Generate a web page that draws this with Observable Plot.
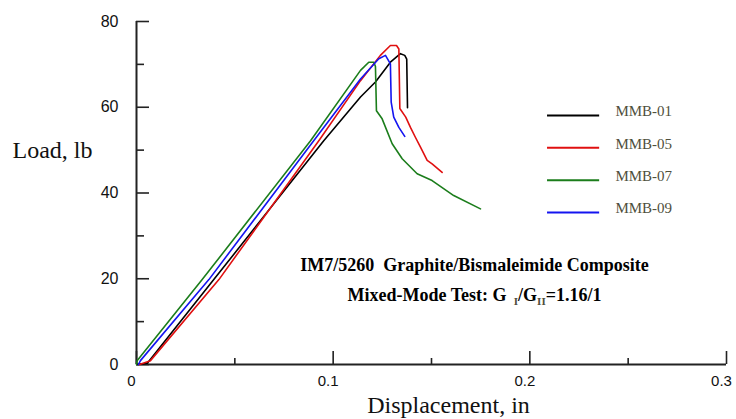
<!DOCTYPE html>
<html>
<head>
<meta charset="utf-8">
<script src="https://cdn.jsdelivr.net/npm/d3@7"></script>
<script src="https://cdn.jsdelivr.net/npm/@observablehq/plot@0.6"></script>
<style>
  html, body { margin: 0; padding: 0; background: #fff; }
  #chart { width: 736px; height: 419px; }
</style>
</head>
<body>
<div id="chart"></div>
<script>
// ---- data (displacement in inches, load in lb) ----
const seriesNames = ["MMB-01", "MMB-05", "MMB-07", "MMB-09"];
const seriesColors = ["#000000", "#e01010", "#1b7d1b", "#1414f0"];

const mmb01 = [[0.0005,0],[0.0055,0.3],[0.0393,19.8],[0.0952,52.2],[0.1139,62.4],[0.1215,65.9],[0.1291,70.5],[0.1342,72.5],[0.1364,72.1],[0.1374,71.2],[0.1378,59.9]];
const mmb05 = [[0.0015,0],[0.0071,0.9],[0.0419,19.8],[0.0927,52.2],[0.1139,66.2],[0.1240,72.1],[0.1291,74.4],[0.1322,74.4],[0.1334,73.6],[0.1339,59.7],[0.1369,57.7],[0.1393,55.3],[0.1418,53.0],[0.1444,50.7],[0.1478,47.6],[0.1503,46.8],[0.1554,44.8]];
const mmb07 = [[0.0000,0],[0.0003,0.9],[0.0334,19.8],[0.0885,52.2],[0.1139,68.6],[0.1181,70.5],[0.1207,70.5],[0.1215,69.5],[0.1220,59.2],[0.1249,57.3],[0.1300,51.5],[0.1351,48.0],[0.1427,44.5],[0.1503,42.9],[0.1613,39.4],[0.1749,36.3]];
const mmb09 = [[0.0010,0],[0.0020,0.9],[0.0368,19.8],[0.0901,52.2],[0.1139,66.6],[0.1232,71.3],[0.1266,72.1],[0.1291,70.1],[0.1295,61.2],[0.1308,57.7],[0.1334,55.3],[0.1364,53.2]];

const xMajor = [0, 0.1, 0.2, 0.3];
const xMinor = [0.05, 0.15, 0.25];
const yMajor = [0, 20, 40, 60, 80];
const yMinor = [10, 30, 50, 70];

const xTitle = "Displacement, in";
const yTitle = "Load, lb";
const note1 = "IM7/5260  Graphite/Bismaleimide Composite";
const note2 = "Mixed-Mode Test: G";

// ---- build table ----
const seriesData = [mmb01, mmb05, mmb07, mmb09];
const rows = [];
seriesNames.forEach((name, i) => seriesData[i].forEach(([d, l]) => rows.push({series: name, d, l})));

const W = 736, H = 419;
const mL = 136, mR = 10, mT = 21, mB = 55;
const frameW = W - mL - mR, frameH = H - mT - mB;
const serif = "'Liberation Serif', 'Times New Roman', serif";
const sans = "'Liberation Sans', Arial, sans-serif";
const axisColor = "#222";
const legendInk = "#4f4f3c";

// legend layout (in chart units, to sit in the upper right)
const legX1 = 0.209, legX2 = 0.2355, legTextX = 0.2435, legTop = 58.1, legStep = 7.55;
const legendRows = seriesNames.map((n, i) => ({name: n, y: legTop - i * legStep}));

const chart = Plot.plot({
  width: W, height: H,
  marginLeft: mL, marginRight: mR, marginTop: mT, marginBottom: mB,
  x: {domain: [0, 0.3]},
  y: {domain: [0, 80]},
  color: {domain: seriesNames, range: seriesColors},
  style: {background: "#fff", fontFamily: sans},
  marks: [
    // tick labels
    Plot.axisX(xMajor, {tickSize: 0, tickPadding: 11, dx: -5, label: null, fontSize: 15, fill: "#111", tickFormat: d => String(d)}),
    Plot.axisY(yMajor, {tickSize: 0, tickPadding: 18, label: null, fontSize: 16, fill: "#111", tickFormat: d => String(d)}),
    // inward ticks
    Plot.ruleX(xMajor, {insetTop: frameH - 13, stroke: axisColor, strokeWidth: 1.6}),
    Plot.ruleX(xMinor, {insetTop: frameH - 6, stroke: axisColor, strokeWidth: 1.6}),
    Plot.ruleY(yMajor, {insetRight: frameW - 13, stroke: axisColor, strokeWidth: 1.6}),
    Plot.ruleY(yMinor, {insetRight: frameW - 8, stroke: axisColor, strokeWidth: 1.6}),
    // axis lines
    Plot.ruleY([0], {stroke: axisColor, strokeWidth: 2}),
    Plot.ruleX([0], {stroke: axisColor, strokeWidth: 2}),
    // data
    Plot.line(rows, {x: "d", y: "l", z: "series", stroke: "series", strokeWidth: 1.6, strokeLinejoin: "round"}),
    // legend
    Plot.ruleY(legendRows, {y: "y", x1: legX1, x2: legX2, stroke: d => d.name, strokeWidth: 2}),
    Plot.text(legendRows, {x: legTextX, y: "y", dy: -4, text: "name", textAnchor: "start", fill: legendInk, fontFamily: serif, fontSize: 15}),
    // axis titles
    Plot.text([xTitle], {frameAnchor: "bottom", dx: 17, dy: 48, textAnchor: "middle", lineAnchor: "bottom", fontFamily: serif, fontSize: 24, fill: "#111"}),
    Plot.text([yTitle], {frameAnchor: "top-left", dx: 12 - mL, dy: 157 - mT, textAnchor: "start", lineAnchor: "bottom", fontFamily: serif, fontSize: 24, fill: "#111"}),
    // annotation
    Plot.text([note1], {frameAnchor: "top-left", dx: 474 - mL, dy: 270 - mT, textAnchor: "middle", lineAnchor: "bottom", fontFamily: serif, fontSize: 18, fontWeight: "bold", fill: "#000"}),
    Plot.text([note2], {frameAnchor: "top-left", dx: 474 - mL, dy: 300 - mT, textAnchor: "middle", lineAnchor: "bottom", fontFamily: serif, fontSize: 18, fontWeight: "bold", fill: "#000"})
  ]
});

// subscripts in the mixed-mode ratio line
d3.select(chart).selectAll("text")
  .filter(function () { return this.textContent === note2; })
  .each(function () {
    const t = d3.select(this);
    t.text(null);
    t.append("tspan").text("Mixed-Mode Test: G ");
    t.append("tspan").attr("dy", 4).attr("font-size", 11).attr("fill", legendInk).text(" I");
    t.append("tspan").attr("dy", -4).text("/G");
    t.append("tspan").attr("dy", 4).attr("font-size", 11).attr("fill", legendInk).text("II");
    t.append("tspan").attr("dy", -4).text("=1.16/1");
  });

document.getElementById("chart").appendChild(chart);
</script>
</body>
</html>
